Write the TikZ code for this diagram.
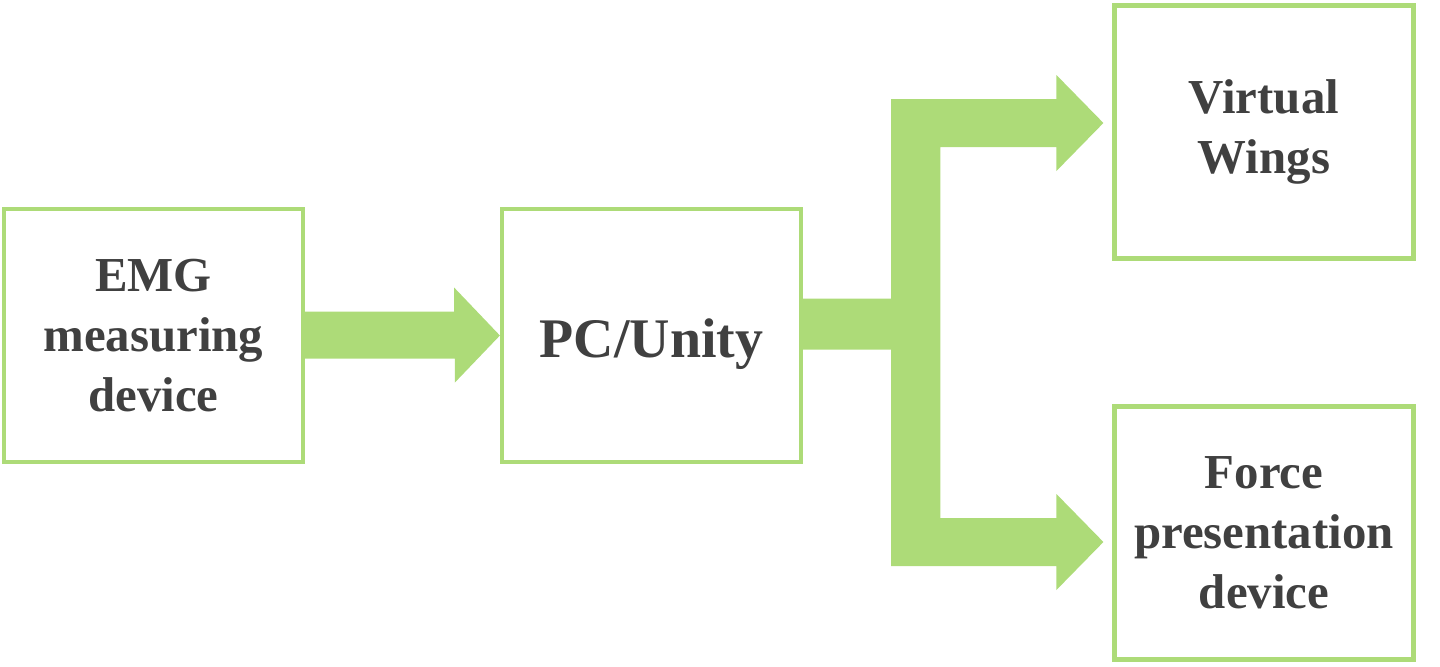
\documentclass[tikz,border=0pt]{standalone}
\usepackage{fontspec}
\setmainfont{Liberation Serif}
\usepackage{xcolor}
\usepackage{tikz}
\usetikzlibrary{calc}
\definecolor{flowgreen}{HTML}{ADDB78}
\definecolor{textgrey}{HTML}{404040}

\begin{document}
\begin{tikzpicture}[x=0.02cm, y=-0.02cm, text=textgrey, font=\bfseries\fontsize{27.8}{34.2}\selectfont,
            block/.style={draw=flowgreen, line width=0.085cm, minimum width=5.98cm, minimum height=5.06cm, align=center, inner sep=0pt},
            flow/.style={fill=flowgreen}]
            \useasboundingbox (0,0) rectangle (1440,666);

            \node[block] (emg) at (153.5,335.5) {EMG\\measuring\\device};
            \node[block, text height=0.86cm, text depth=0cm] (pc) at (651.5,335.5) {\fontsize{31.8}{38}\selectfont PC/Unity};
            \node[block] (vw) at (1264,132) {Virtual\\Wings};
            \node[block] (fpd) at (1264,533) {Force\\presentation\\device};

            % EMG -> PC
            \fill[flow] ($(emg.east)+(0,-24)$) -- ++(149,0) -- ++(0,-24) -- (pc.west) -- ++(-45,47) -- ++(0,-24) -- ($(emg.east)+(0,23)$) -- cycle;

            % PC -> wings / force device
            \coordinate (fork) at ($(pc.east)+(88,0)$);
            \coordinate (tipa) at ($(vw.west)+(-9,-9)$);
            \coordinate (tipb) at ($(fpd.west)+(-9,9)$);
            \fill[flow] ($(pc.east)+(0,-37)$) -- ($(fork)+(0,-37)$) -- ($(fork |- tipa)+(0,-24)$) -- ($(tipa)+(-47,-24)$) -- ($(tipa)+(-47,-48)$)
                -- (tipa) -- ($(tipa)+(-47,48)$) -- ($(tipa)+(-47,24)$) -- ($(tipa)+(-163,24)$)
                -- ($(tipb)+(-163,-24)$) -- ($(tipb)+(-47,-24)$) -- ($(tipb)+(-47,-48)$)
                -- (tipb) -- ($(tipb)+(-47,48)$) -- ($(tipb)+(-47,24)$) -- ($(fork |- tipb)+(0,24)$)
                -- ($(fork)+(0,14)$) -- ($(pc.east)+(0,14)$) -- cycle;
\end{tikzpicture}
\end{document}
